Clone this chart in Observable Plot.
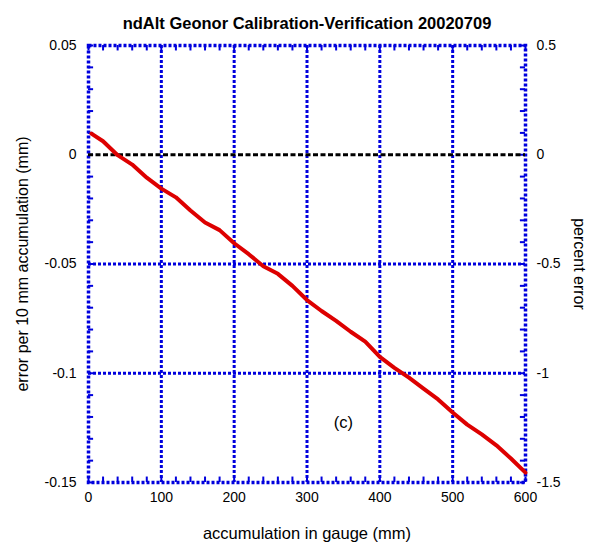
<!DOCTYPE html>
<html>
<head>
<meta charset="utf-8">
<script src="https://cdn.jsdelivr.net/npm/d3@7"></script>
<script src="https://cdn.jsdelivr.net/npm/@observablehq/plot@0.6"></script>
<style>
html,body{margin:0;padding:0;background:#fff;}
svg{font-family:"Liberation Sans",Arial,sans-serif;}
</style>
</head>
<body>
<div id="chart"></div>
<script>
const titleText = "ndAlt Geonor Calibration-Verification 20020709";
const xLabel = "accumulation in gauge (mm)";
const yLabelLeft = "error per 10 mm accumulation (mm)";
const yLabelRight = "percent error";
const panelLabel = "(c)";

const accumulation = [4,20,40,60,80,100,120,140,160,180,200,220,240,260,280,300,320,340,360,380,400,420,440,460,480,500,520,540,560,580,600];
const errorMm = [0.0097,0.0062,-0.0002,-0.0045,-0.0105,-0.0155,-0.0195,-0.0255,-0.0310,-0.0345,-0.0405,-0.0455,-0.0510,-0.0545,-0.0600,-0.0665,-0.0715,-0.0760,-0.0810,-0.0855,-0.0925,-0.0975,-0.1020,-0.1070,-0.1120,-0.1180,-0.1235,-0.1280,-0.1330,-0.1390,-0.1455];

const xTicks = [0,100,200,300,400,500,600];
const yTicks = [0.05,0,-0.05,-0.1,-0.15];
const yTickLabels = ["0.05","0","-0.05","-0.1","-0.15"];
const yRightTickLabels = ["0.5","0","-0.5","-1","-1.5"];
const xMinor = d3.range(0,601,20);
const yMinor = d3.range(-0.15,0.0501,0.01).map(v=>+v.toFixed(3));

const data = accumulation.map((x,i)=>({x, y: errorMm[i]}));
const blue = "#0000dd";
const dots = "3,2";

const chart = Plot.plot({
  width: 598,
  height: 548,
  marginLeft: 88,
  marginRight: 73,
  marginTop: 45,
  marginBottom: 66,
  style: {fontFamily: "'Liberation Sans', Arial, sans-serif", background: "#fff"},
  x: {domain: [0,600]},
  y: {domain: [-0.15,0.05]},
  marks: [
    Plot.ruleX(xTicks.slice(1,-1), {stroke: blue, strokeWidth: 3, strokeDasharray: dots}),
    Plot.ruleY(yTicks.slice(1,-1).filter(v=>v!==0), {stroke: blue, strokeWidth: 3, strokeDasharray: dots}),
    Plot.ruleX(xMinor, {y1: -0.15, y2: -0.1475, stroke: blue, strokeWidth: 2}),
    Plot.ruleX(xMinor, {y1: 0.05, y2: 0.0475, stroke: blue, strokeWidth: 2}),
    Plot.ruleY(yMinor, {x1: 0, x2: 7, stroke: blue, strokeWidth: 2}),
    Plot.ruleY(yMinor, {x1: 600, x2: 593, stroke: blue, strokeWidth: 2}),
    Plot.frame({stroke: blue, strokeWidth: 3.5, strokeDasharray: dots}),
    Plot.ruleY([0], {stroke: "#000", strokeWidth: 3, strokeDasharray: "5,2.5"}),
    Plot.line(data, {x: "x", y: "y", stroke: "#dd0000", strokeWidth: 4}),
    Plot.axisX(xTicks, {anchor: "bottom", tickSize: 0, tickPadding: 10, fontSize: 14, fill: "#000", label: null}),
    Plot.axisY(yTicks, {anchor: "left", tickSize: 0, tickPadding: 12, fontSize: 14, fill: "#000", label: null, tickFormat: (d)=>yTickLabels[yTicks.indexOf(d)]}),
    Plot.axisY(yTicks, {anchor: "right", tickSize: 0, tickPadding: 11, fontSize: 14, fill: "#000", label: null, tickFormat: (d)=>yRightTickLabels[yTicks.indexOf(d)]}),
    Plot.text([titleText], {frameAnchor: "top", dy: -28, fontSize: 16.5, fontWeight: "bold", fill: "#000"}),
    Plot.text([xLabel], {frameAnchor: "bottom", dy: 56, fontSize: 16.5, fill: "#000"}),
    Plot.text([yLabelLeft], {frameAnchor: "left", textAnchor: "middle", dx: -66, rotate: -90, fontSize: 16, fill: "#000"}),
    Plot.text([yLabelRight], {frameAnchor: "right", textAnchor: "middle", dx: 54, rotate: 90, fontSize: 16, fill: "#000"}),
    Plot.text([panelLabel], {x: 350, y: -0.1225, fontSize: 16.5, fill: "#000"})
  ]
});
document.getElementById("chart").appendChild(chart);
</script>
</body>
</html>
